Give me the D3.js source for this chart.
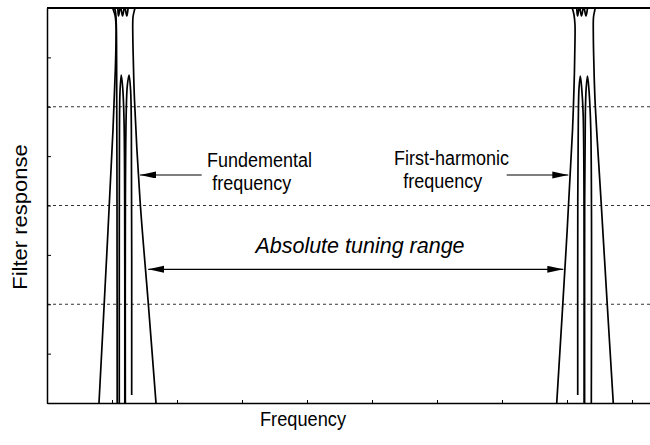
<!DOCTYPE html>
<html>
<head>
<meta charset="utf-8">
<script src="https://cdn.jsdelivr.net/npm/d3@7"></script>
<style>
  body { margin: 0; background: #fff; }
  text { font-family: "Liberation Sans", Arial, sans-serif; fill: #000; }
</style>
</head>
<body>
<svg id="chart" width="650" height="445"></svg>
<script>
// Left peak (fundamental) - curves, [frequency, response]
const leftPassband = [
  [0.800, 0], [0.923, 3.099], [1.015, 5.529], [1.051, 6.744], [1.062, 7.352],
  [1.062, 7.656], [1.046, 7.858], [1.015, 7.980], [0.985, 8.081], [1.031, 8.142],
  [1.077, 8.081], [1.100, 7.838], [1.131, 8.030], [1.162, 7.838], [1.195, 8.030],
  [1.228, 7.838], [1.262, 8.061], [1.323, 8.142], [1.369, 8.081], [1.346, 7.959],
  [1.323, 7.818], [1.320, 7.453], [1.328, 6.947], [1.346, 6.137], [1.431, 4.111],
  [1.554, 2.086], [1.677, 0]
];
const leftWall = [
  [1.080, 0], [1.077, 4.111], [1.071, 6.947], [1.066, 7.656], [1.054, 7.919], [1.031, 8.04]
];
const leftHump1 = [
  [1.112, 0], [1.112, 3.099], [1.115, 5.529], [1.123, 6.299], [1.142, 6.643],
  [1.165, 6.380], [1.185, 5.732], [1.195, 4.111], [1.197, 0]
];
const leftHump2 = [
  [1.205, 0], [1.206, 4.111], [1.218, 5.833], [1.235, 6.420], [1.262, 6.643],
  [1.286, 6.339], [1.298, 5.529], [1.303, 0.162]
];

// Right peak (first harmonic)
const rightPassband = [
  [7.842, 0], [7.985, 3.099], [8.085, 5.529], [8.115, 6.744], [8.123, 7.352],
  [8.123, 7.656], [8.108, 7.858], [8.085, 7.980], [8.054, 8.081], [8.100, 8.142],
  [8.138, 8.081], [8.162, 7.838], [8.192, 8.030], [8.223, 7.838], [8.257, 8.030],
  [8.292, 7.838], [8.331, 8.061], [8.392, 8.142], [8.446, 8.081], [8.428, 7.959],
  [8.408, 7.818], [8.405, 7.453], [8.412, 6.947], [8.431, 6.137], [8.523, 4.111],
  [8.615, 2.086], [8.712, 0]
];
const rightHump1 = [
  [8.165, 0.162], [8.166, 4.111], [8.174, 5.732], [8.185, 6.380], [8.205, 6.623],
  [8.226, 6.380], [8.249, 5.833], [8.262, 4.111], [8.264, 0]
];
const rightHump2 = [
  [8.271, 0], [8.272, 4.111], [8.282, 5.833], [8.295, 6.380], [8.315, 6.623],
  [8.338, 6.339], [8.366, 5.529], [8.374, 0]
];

const curves = [leftPassband, leftWall, leftHump1, leftHump2, rightPassband, rightHump1, rightHump2];

const gridValues = [2, 4, 6];
const yTicks = [0, 1, 2, 3, 4, 5, 6, 7, 8];
const xTicks = [0, 1, 2, 3, 4, 5, 6, 7, 8, 9];

// Annotations [x, y] in data units
const arrows = [
  { from: [2.380, 4.618], to: [1.431, 4.618], both: false },
  { from: [7.072, 4.618], to: [8.020, 4.618], both: false },
  { from: [1.558, 2.708], to: [7.943, 2.708], both: true }
];
const labels = [
  { text: 'Fundemental', at: [3.269, 4.786], size: 18, italic: false, stretch: 1.12 },
  { text: 'frequency', at: [3.149, 4.314], size: 18, italic: false, stretch: 1.12 },
  { text: 'First-harmonic', at: [6.223, 4.820], size: 18, italic: false, stretch: 1.12 },
  { text: 'frequency', at: [6.089, 4.348], size: 18, italic: false, stretch: 1.12 },
  { text: 'Absolute tuning range', at: [4.815, 3.032], size: 21.5, italic: true, stretch: 1 }
];

const svg = d3.select('#chart');
const margin = { left: 47, top: 8, bottom: 42 };
const width = 650, height = 445;

const x = d3.scaleLinear().domain([0, 9.3]).range([margin.left, 651.5]);
const y = d3.scaleLinear().domain([0, 8]).range([height - margin.bottom, margin.top]);

svg.append('defs').append('clipPath').attr('id', 'plotClip')
  .append('rect')
  .attr('x', x(0)).attr('y', y(8))
  .attr('width', width - x(0)).attr('height', y(0) - y(8));

const marker = svg.select('defs').append('marker')
  .attr('id', 'arrowHead')
  .attr('markerUnits', 'userSpaceOnUse')
  .attr('markerWidth', 17).attr('markerHeight', 8)
  .attr('refX', 16).attr('refY', 3.5)
  .attr('orient', 'auto-start-reverse');
marker.append('path').attr('d', 'M0,0 L16,3.5 L0,7 Z').attr('fill', '#000');

// Dashed grid
svg.append('g')
  .selectAll('line')
  .data(gridValues)
  .enter()
  .append('line')
  .attr('x1', x(0)).attr('x2', width)
  .attr('y1', d => y(d)).attr('y2', d => y(d))
  .attr('stroke', '#333')
  .attr('stroke-width', 1)
  .attr('stroke-dasharray', '3,3');

// Axes
const yAxis = svg.append('g')
  .attr('transform', `translate(${x(0)},0)`)
  .call(d3.axisLeft(y).tickValues(yTicks).tickSizeInner(-4).tickSizeOuter(0).tickFormat(''));
const xAxis = svg.append('g')
  .attr('transform', `translate(0,${y(0)})`)
  .call(d3.axisBottom(x).tickValues(xTicks).tickSizeInner(-3).tickSizeOuter(0).tickFormat(''));
[yAxis, xAxis].forEach(g => {
  g.select('.domain').attr('stroke', '#000').attr('stroke-width', 1.5);
  g.selectAll('.tick line').attr('stroke', '#000').attr('stroke-width', 1);
});

// Responses
const line = d3.line()
  .curve(d3.curveCatmullRom.alpha(0.5))
  .x(d => x(d[0]))
  .y(d => y(d[1]));

svg.append('g')
  .attr('clip-path', 'url(#plotClip)')
  .selectAll('path')
  .data(curves)
  .enter()
  .append('path')
  .attr('d', line)
  .attr('fill', 'none')
  .attr('stroke', '#000')
  .attr('stroke-width', 1.7)
  .attr('stroke-linejoin', 'round');

// Top frame
svg.append('line')
  .attr('x1', x(0)).attr('x2', width)
  .attr('y1', y(8)).attr('y2', y(8))
  .attr('stroke', '#000')
  .attr('stroke-width', 2);

// Arrows
svg.append('g')
  .selectAll('line')
  .data(arrows)
  .enter()
  .append('line')
  .attr('x1', d => x(d.from[0])).attr('y1', d => y(d.from[1]))
  .attr('x2', d => x(d.to[0])).attr('y2', d => y(d.to[1]))
  .attr('stroke', '#000')
  .attr('stroke-width', 1.2)
  .attr('marker-end', 'url(#arrowHead)')
  .attr('marker-start', d => d.both ? 'url(#arrowHead)' : null);

svg.append('g')
  .selectAll('text')
  .data(labels)
  .enter()
  .append('text')
  .attr('transform', d => `translate(${x(d.at[0])},${y(d.at[1])}) scale(1,${d.stretch})`)
  .attr('text-anchor', 'middle')
  .attr('font-size', d => d.size)
  .attr('font-style', d => d.italic ? 'italic' : 'normal')
  .text(d => d.text);

// Axis titles
svg.append('text')
  .attr('transform', 'translate(303,426) scale(1,1.15)')
  .attr('text-anchor', 'middle')
  .attr('font-size', 18.2)
  .text('Frequency');

svg.append('text')
  .attr('transform', 'translate(27,217) rotate(-90) scale(1.13,1)')
  .attr('text-anchor', 'middle')
  .attr('font-size', 19.5)
  .text('Filter response');
</script>
</body>
</html>
